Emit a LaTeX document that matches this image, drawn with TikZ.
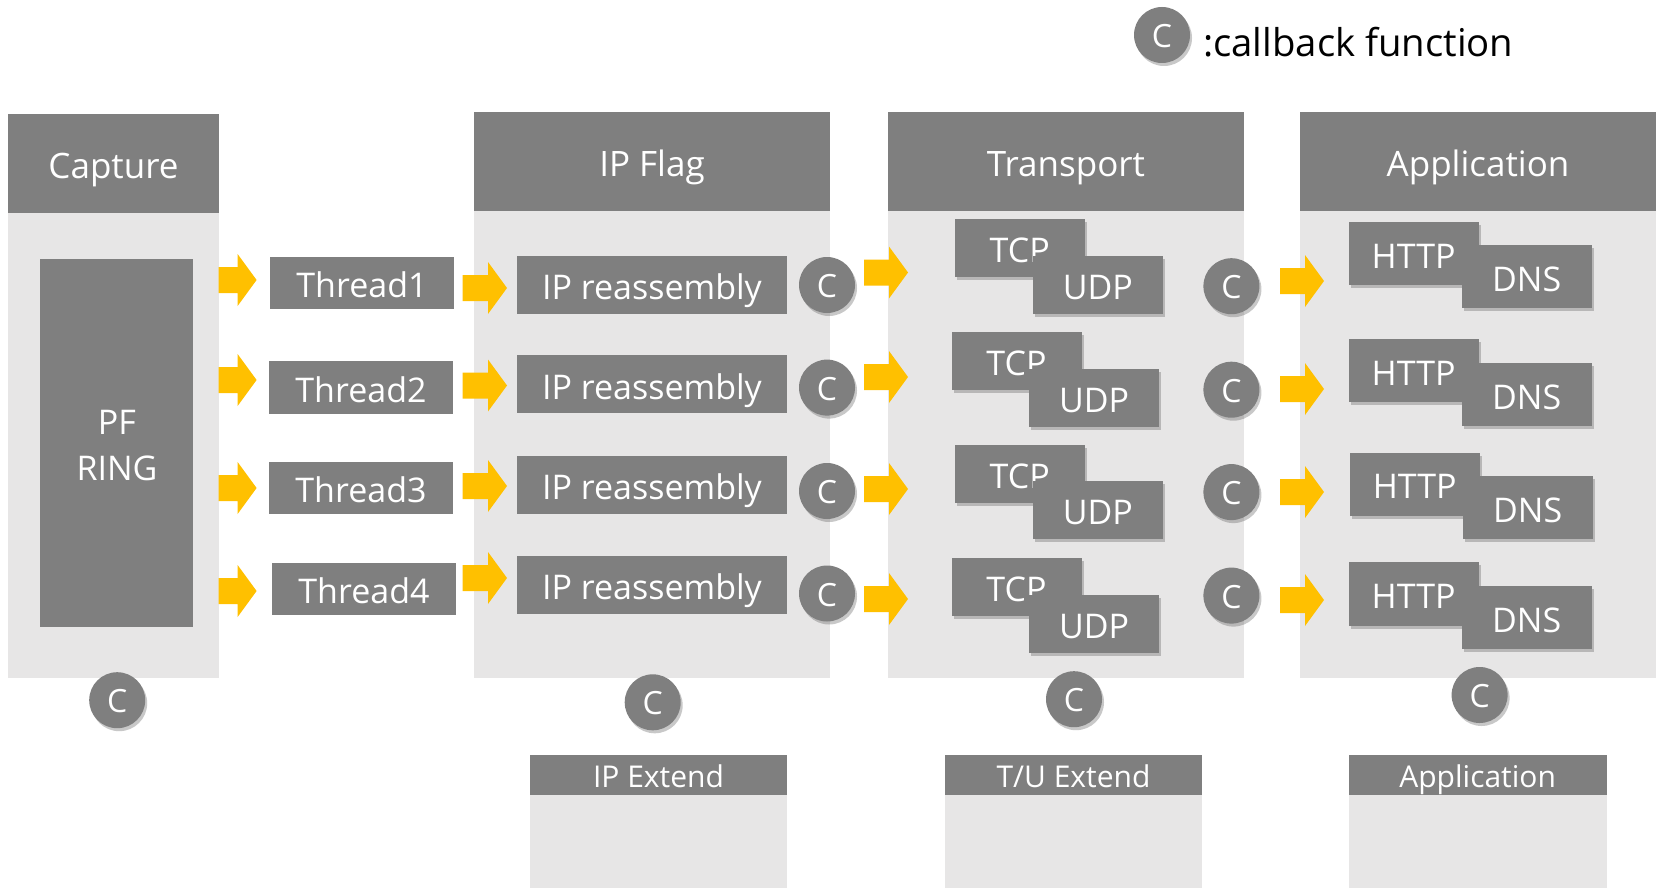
\documentclass[tikz,border=0pt]{standalone}
\usepackage{fontspec}
\setmainfont{Open Sans}
\usetikzlibrary{shadows}
\definecolor{dg}{HTML}{7F7F7F}
\definecolor{lg}{HTML}{E7E6E6}
\definecolor{yl}{HTML}{FFC000}
\newcommand\fsz[1]{\fontsize{#1}{#1}\selectfont}
% block arrow: x start, x tip, y centre
\newcommand\yarrow[3]{%
  \fill[yl] (#1,#3-13) -- (#2-19,#3-13) -- (#2-19,#3-26) -- (#2,#3)
     -- (#2-19,#3+26) -- (#2-19,#3+13) -- (#1,#3+13) -- cycle;}
\begin{document}
\begin{tikzpicture}[x=1pt,y=-1pt,
  hdr/.style={fill=dg,text=white,inner sep=0,font=\fsz{35},text height=30pt,text depth=0pt},
  bhdr/.style={fill=dg,text=white,inner sep=0,font=\fsz{30},text height=25pt,text depth=0pt},
  sbox/.style={fill=dg,text=white,inner sep=0,font=\fsz{34},text height=29.5pt,text depth=0pt},
  shd/.style={drop shadow={shadow xshift=2pt,shadow yshift=-3pt,opacity=0.3,fill=black!70}},
  thr/.style={sbox,minimum width=184pt,minimum height=52.5pt},
  ipr/.style={sbox,minimum width=269.5pt,minimum height=58pt},
  tu/.style={sbox,shd,minimum width=130pt,minimum height=58pt},
  hd/.style={sbox,shd,minimum width=130pt,minimum height=63.4pt},
  cb/.style={circle,fill=dg,text=white,inner sep=0,minimum size=56pt,font=\fsz{32},text height=25pt,text depth=0pt,shd},
]
\fill[white] (0,0) rectangle (1656,888);
\useasboundingbox (0,0) rectangle (1656,888);

% legend
\node (lc) [cb] at (1162,35) {C};
\node (lt) [anchor=base west,inner sep=0,font=\fsz{38.3}] at (1203,56.7) {:callback function};

% columns
\fill[lg] (8.4,213) rectangle (218.6,678);
\node (caph) [hdr,minimum width=210.2pt,minimum height=99.3pt] at (113.5,163.7) {Capture};
\fill[lg] (474,211) rectangle (830,678);
\node (iph) [hdr,minimum width=356pt,minimum height=99pt] at (652,161.5) {IP Flag};
\fill[lg] (888,211) rectangle (1244,678);
\node (trh) [hdr,minimum width=356pt,minimum height=99pt] at (1066,161.5) {Transport};
\fill[lg] (1300,211) rectangle (1656,678);
\node (aph) [hdr,minimum width=356pt,minimum height=99pt] at (1478,161.5) {Application};

% PF RING
\node (pf) [fill=dg,inner sep=0,minimum width=153pt,minimum height=368pt] at (116.5,443) {};
\node (pft) [text=white,align=center,inner sep=0,font=\fontsize{34}{46}\selectfont] at (117,446) {PF\\RING};

% threads
\node (t1) [thr] at (362,283) {Thread1};
\node (t2) [thr] at (361,387.5) {Thread2};
\node (t3) [thr] at (361,488) {Thread3};
\node (t4) [thr] at (364,589) {Thread4};

% IP reassembly
\node (r1) [ipr] at (652,284.6) {IP reassembly};
\node (r2) [ipr] at (652,384.4) {IP reassembly};
\node (r3) [ipr] at (652,485) {IP reassembly};
\node (r4) [ipr] at (652,585) {IP reassembly};

\node (c1) [cb] at (827,285) {C};
\node (c2) [cb] at (827,387.6) {C};
\node (c3) [cb] at (827,491) {C};
\node (c4) [cb] at (827,593.5) {C};

% arrows
\yarrow{218.6}{256.6}{280}
\yarrow{218.6}{256.6}{380}
\yarrow{218.6}{256.6}{488}
\yarrow{218.6}{256.6}{591}
\yarrow{462.6}{507}{288}
\yarrow{462.6}{507}{385.5}
\yarrow{462.6}{507}{486}
\yarrow{462.6}{507}{578}
\yarrow{864}{908}{272.5}
\yarrow{864}{908}{377}
\yarrow{864}{908}{489}
\yarrow{864}{908}{599}
\yarrow{1280}{1324}{281}
\yarrow{1280}{1324}{389}
\yarrow{1280}{1324}{492}
\yarrow{1280}{1324}{600}

% TCP / UDP
\node (tcp1) [tu] at (1019.7,247.7) {TCP};
\node (udp1) [tu] at (1097.8,284.6) {UDP};
\node (tcp2) [tu] at (1016.5,360.7) {TCP};
\node (udp2) [tu] at (1094,397.6) {UDP};
\node (tcp3) [tu] at (1019.7,473.7) {TCP};
\node (udp3) [tu] at (1097.8,510) {UDP};
\node (tcp4) [tu] at (1016.5,586.7) {TCP};
\node (udp4) [tu] at (1094,623.6) {UDP};

\node (d1) [cb] at (1231.4,286.2) {C};
\node (d2) [cb] at (1231.4,389.7) {C};
\node (d3) [cb] at (1231.4,492.1) {C};
\node (d4) [cb] at (1231.4,595.6) {C};

% HTTP / DNS
\node (http1) [hd] at (1413.6,253.5) {HTTP};
\node (dns1) [hd] at (1526.6,276.7) {DNS};
\node (http2) [hd] at (1413.6,370.7) {HTTP};
\node (dns2) [hd] at (1526.6,394.4) {DNS};
\node (http3) [hd] at (1414.7,484.2) {HTTP};
\node (dns3) [hd] at (1527.6,507.5) {DNS};
\node (http4) [hd] at (1413.6,594.1) {HTTP};
\node (dns4) [hd] at (1526.6,617.3) {DNS};

% bottom callbacks
\node (b1) [cb] at (117.2,700.2) {C};
\node (b2) [cb] at (652.7,702.3) {C};
\node (b3) [cb] at (1074,699.2) {C};
\node (b4) [cb] at (1479.6,695) {C};

% bottom boxes
\fill[lg] (530,795) rectangle (787,888);
\node (ipe) [bhdr,minimum width=257pt,minimum height=40.2pt] at (658.5,775.1) {IP Extend};
\fill[lg] (945,795) rectangle (1202,888);
\node (tue) [bhdr,minimum width=257pt,minimum height=40.2pt] at (1073.5,775.1) {T/U Extend};
\fill[lg] (1348.7,795) rectangle (1606.5,888);
\node (ape) [bhdr,minimum width=257.8pt,minimum height=40.2pt] at (1477.6,775.1) {Application};
\end{tikzpicture}
\end{document}
